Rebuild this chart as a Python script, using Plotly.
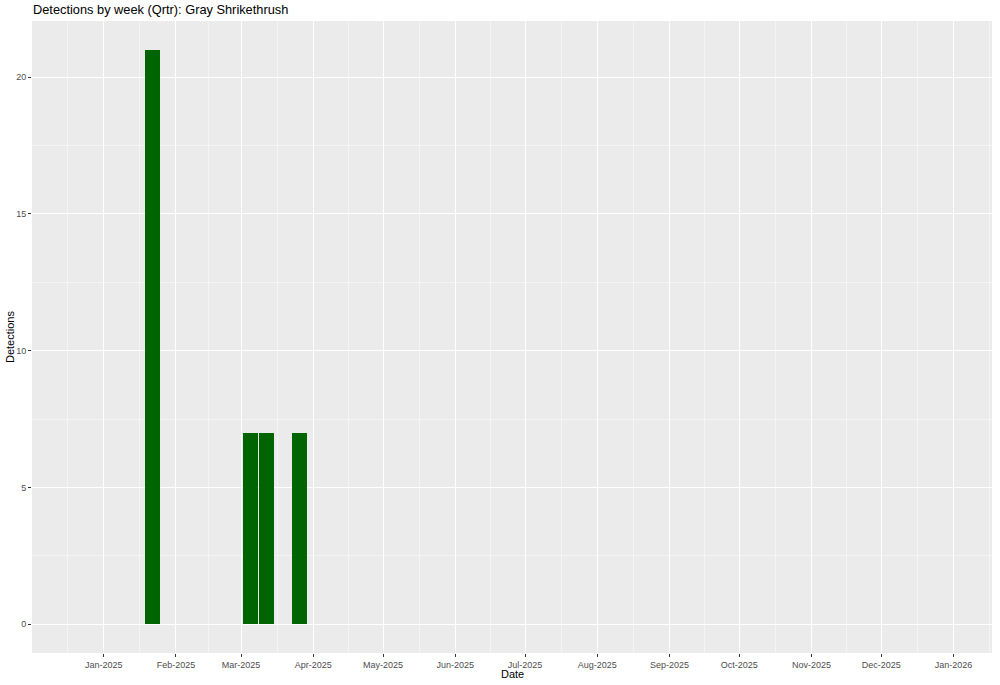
import plotly.graph_objects as go
import pandas as pd

# Data
week_dates = ["2025-01-22", "2025-03-05", "2025-03-12", "2025-03-26"]
detections = [21, 7, 7, 7]

month_ticks = ["2025-01-01", "2025-02-01", "2025-03-01", "2025-04-01", "2025-05-01",
               "2025-06-01", "2025-07-01", "2025-08-01", "2025-09-01", "2025-10-01",
               "2025-11-01", "2025-12-01", "2026-01-01"]
month_labels = ["Jan-2025", "Feb-2025", "Mar-2025", "Apr-2025", "May-2025", "Jun-2025",
                "Jul-2025", "Aug-2025", "Sep-2025", "Oct-2025", "Nov-2025", "Dec-2025",
                "Jan-2026"]
y_ticks = [0, 5, 10, 15, 20]

# minor gridlines at midpoints between month breaks (ggplot style)
all_months = pd.date_range("2024-12-01", "2026-02-01", freq="MS")
minor_vals = [(all_months[i] + (all_months[i + 1] - all_months[i]) / 2).strftime("%Y-%m-%d %H:%M")
              for i in range(len(all_months) - 1)]

bar_width_ms = 0.9 * 7 * 24 * 3600 * 1000

fig = go.Figure()
fig.add_trace(go.Bar(
    x=week_dates, y=detections, width=[bar_width_ms] * len(week_dates),
    marker=dict(color="#006400", line=dict(width=0)),
    hoverinfo="x+y",
))

font_family = "Liberation Sans, Arial, sans-serif"
W, H = 1000, 685
ml, mr, mt, mb = 32, 8, 21, 32

fig.update_layout(
    width=W, height=H,
    margin=dict(l=ml, r=mr, t=mt, b=mb, autoexpand=False),
    paper_bgcolor="white",
    plot_bgcolor="#EBEBEB",
    font=dict(family=font_family, color="black"),
    showlegend=False,
    bargap=0,
    title=dict(text="Detections by week (Qrtr): Gray Shrikethrush",
               x=33 / W, xanchor="left", xref="container",
               y=1 - 10 / H, yanchor="middle", yref="container",
               font=dict(size=12.8, color="black", family=font_family)),
    annotations=[
        dict(text="Date", xref="paper", x=0.5, yref="paper",
             y=-(674 - (H - mb)) / (H - mt - mb), xanchor="center", yanchor="middle",
             showarrow=False, font=dict(size=11, color="black", family=font_family)),
        dict(text="Detections", xref="paper", x=-(ml - 10) / (W - ml - mr), yref="paper",
             y=0.5, xanchor="center", yanchor="middle", textangle=-90,
             showarrow=False, font=dict(size=11, color="black", family=font_family)),
    ],
)

fig.update_xaxes(
    type="date", automargin=False,
    range=["2024-12-01 04:00", "2026-01-17 14:00"],
    tickmode="array", tickvals=month_ticks, ticktext=month_labels,
    showgrid=True, gridcolor="white", gridwidth=1.1,
    minor=dict(tickmode="array", tickvals=minor_vals, showgrid=True,
               gridcolor="#F4F4F4", gridwidth=0.6, ticklen=0),
    ticks="outside", ticklen=3, tickcolor="#333333", tickwidth=1,
    tickfont=dict(size=9, color="#4D4D4D", family=font_family),
    zeroline=False, showline=False,
)
fig.update_yaxes(
    automargin=False,
    range=[-1.05, 22.05],
    tickmode="array", tickvals=y_ticks, ticktext=[str(v) for v in y_ticks],
    showgrid=True, gridcolor="white", gridwidth=1.1,
    minor=dict(dtick=2.5, tick0=0, showgrid=True, gridcolor="#F4F4F4", gridwidth=0.6, ticklen=0),
    ticks="outside", ticklen=3, tickcolor="#333333", tickwidth=1,
    tickfont=dict(size=9, color="#4D4D4D", family=font_family),
    zeroline=False, showline=False,
)

fig.write_html("out.html", config={"displayModeBar": False},
               post_script="document.body.style.margin='0';")
